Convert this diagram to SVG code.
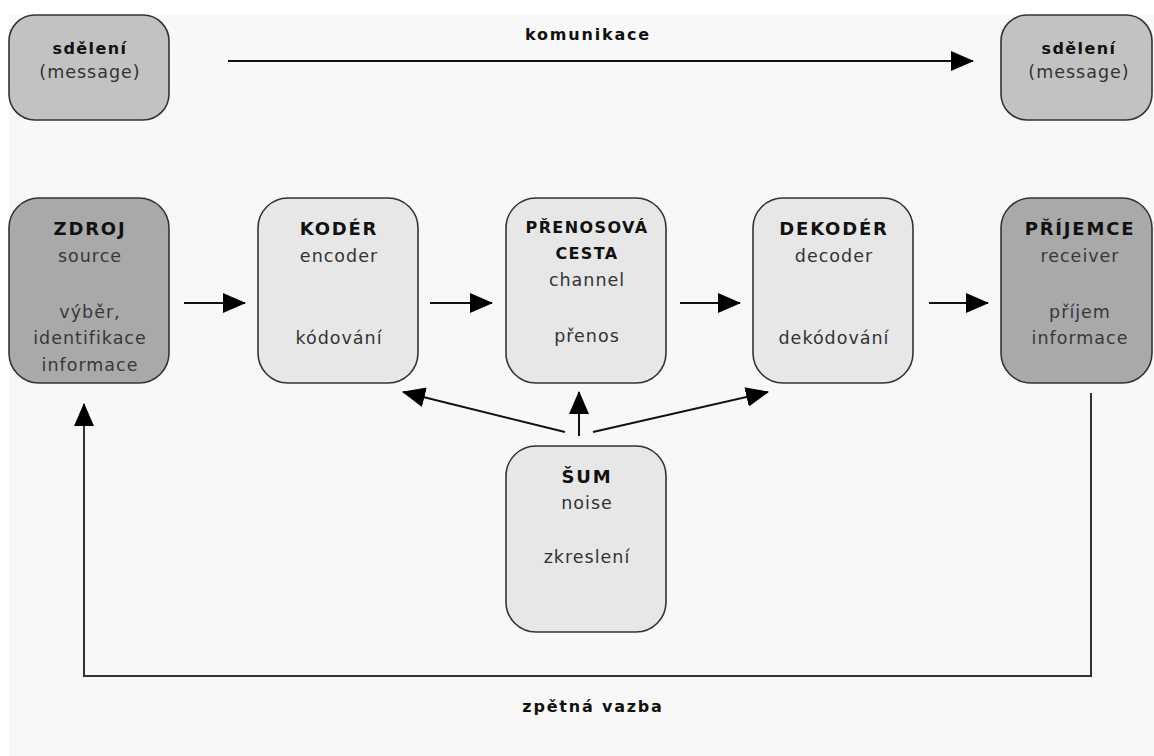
<svg xmlns="http://www.w3.org/2000/svg" width="1154" height="756" viewBox="0 0 1154 756">
<style>
.box{stroke:#333;stroke-width:1.6}
.msg{fill:#c2c2c2}
.dark{fill:#a9a9a9}
.light{fill:#e7e7e7}
text{font-family:"DejaVu Sans","Liberation Sans",sans-serif;text-anchor:middle}
.t{font-size:18px;font-weight:bold;fill:#111;letter-spacing:1.8px}
.ts{font-size:16px;font-weight:bold;fill:#111;letter-spacing:1.4px}
.s{font-size:17.5px;fill:#333;letter-spacing:1px}
.sd{font-size:17.5px;fill:#383838;letter-spacing:1px}
.lbl{font-size:16px;font-weight:bold;fill:#111;letter-spacing:1.8px}
.c{stroke:#111;stroke-width:2;fill:none}
.fb{stroke:#333;stroke-width:2;fill:none}
</style>
<defs>
<marker id="ah" markerUnits="userSpaceOnUse" markerWidth="23" markerHeight="20" refX="22" refY="10" orient="auto">
<path d="M0,0 L23,10 L0,20 z" fill="#000"/>
</marker>
</defs>
<rect x="0" y="0" width="1154" height="756" fill="#ffffff"/>
<rect x="9" y="15" width="1145" height="741" fill="#f8f8f8"/>

<g id="connectors">
<line class="c" x1="228" y1="61" x2="973" y2="61" marker-end="url(#ah)"/>
<line class="c" x1="184" y1="303" x2="245" y2="303" marker-end="url(#ah)"/>
<line class="c" x1="430" y1="303" x2="492" y2="303" marker-end="url(#ah)"/>
<line class="c" x1="680" y1="303" x2="740" y2="303" marker-end="url(#ah)"/>
<line class="c" x1="929" y1="303" x2="988" y2="303" marker-end="url(#ah)"/>
<line class="c" x1="565" y1="432" x2="403" y2="392" marker-end="url(#ah)"/>
<line class="c" x1="579" y1="436" x2="579" y2="392" marker-end="url(#ah)"/>
<line class="c" x1="593" y1="432" x2="768" y2="392" marker-end="url(#ah)"/>
<polyline class="fb" points="1091,393 1091,676 84,676 84,404" marker-end="url(#ah)"/>
<text class="lbl" x="588" y="40">komunikace</text>
<text class="lbl" x="593" y="712">zpětná vazba</text>
</g>

<g id="msg-left">
<rect class="box msg" x="9" y="15" width="160" height="105" rx="26"/>
<text class="ts" x="90" y="54">sdělení</text>
<text class="s" x="90" y="78">(message)</text>
</g>
<g id="msg-right">
<rect class="box msg" x="1001" y="15" width="151" height="105" rx="26"/>
<text class="ts" x="1079" y="54">sdělení</text>
<text class="s" x="1079" y="78">(message)</text>
</g>

<g id="zdroj">
<rect class="box dark" x="9" y="198" width="160" height="185" rx="30"/>
<text class="t" x="90" y="235">ZDROJ</text>
<text class="sd" x="90" y="262">source</text>
<text class="sd" x="90" y="318">výběr,</text>
<text class="sd" x="90" y="344">identifikace</text>
<text class="sd" x="90" y="371">informace</text>
</g>

<g id="koder">
<rect class="box light" x="258" y="198" width="160" height="185" rx="30"/>
<text class="t" x="339" y="235">KODÉR</text>
<text class="s" x="339" y="262">encoder</text>
<text class="s" x="339" y="344">kódování</text>
</g>

<g id="prenosova-cesta">
<rect class="box light" x="506" y="198" width="160" height="185" rx="30"/>
<text class="ts" x="587" y="233">PŘENOSOVÁ</text>
<text class="ts" x="587" y="259">CESTA</text>
<text class="s" x="587" y="286">channel</text>
<text class="s" x="587" y="342">přenos</text>
</g>

<g id="dekoder">
<rect class="box light" x="753" y="198" width="160" height="185" rx="30"/>
<text class="t" x="834" y="235">DEKODÉR</text>
<text class="s" x="834" y="262">decoder</text>
<text class="s" x="834" y="344">dekódování</text>
</g>

<g id="prijemce">
<rect class="box dark" x="1001" y="198" width="151" height="185" rx="30"/>
<text class="t" x="1080" y="235">PŘÍJEMCE</text>
<text class="sd" x="1080" y="262">receiver</text>
<text class="sd" x="1080" y="318">příjem</text>
<text class="sd" x="1080" y="344">informace</text>
</g>

<g id="sum">
<rect class="box light" x="506" y="446" width="160" height="186" rx="30"/>
<text class="t" x="587" y="483">ŠUM</text>
<text class="s" x="587" y="509">noise</text>
<text class="s" x="587" y="563">zkreslení</text>
</g>
</svg>
